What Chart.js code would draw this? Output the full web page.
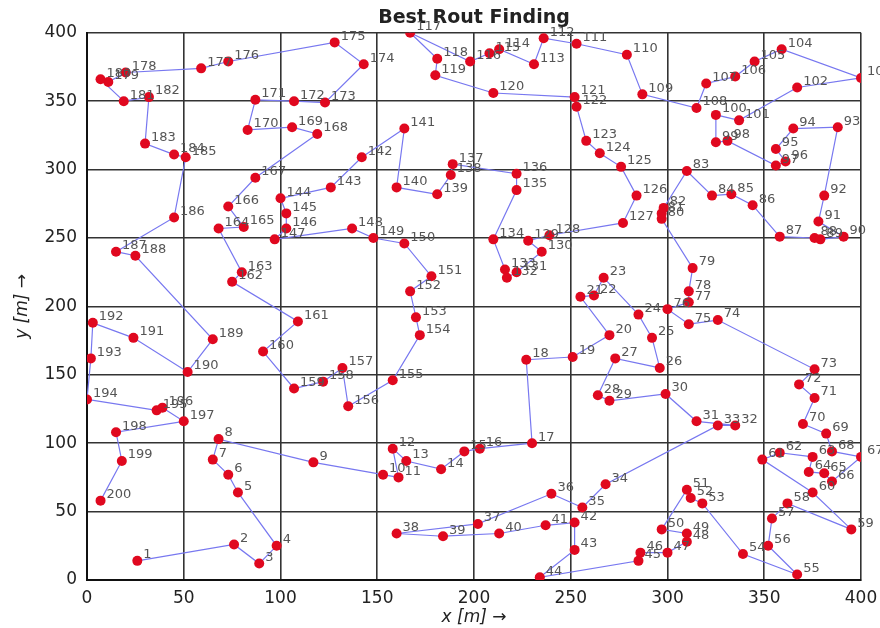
<!DOCTYPE html>
<html lang="en">
<head>
  <meta charset="UTF-8" />
  <title>Best Rout Finding</title>
  <script src="https://cdn.jsdelivr.net/npm/chart.js"></script>
  <style>
    body { margin: 0; background: #fff; }
    #wrap { width: 880px; height: 628px; }
  </style>
</head>
<body>
  <div id="wrap"><canvas id="routeChart" width="880" height="628"></canvas></div>

  <script>
    // visiting order 1..200, x/y in metres
    const xs = [
      26, 76, 89, 98, 78, 73, 65, 68, 117, 153,
      161, 158, 165, 183, 195, 203, 230, 227, 251, 270,
      255, 262, 267, 285, 292, 296, 273, 264, 270, 299,
      315, 335, 326, 268, 256, 240, 202, 160, 184, 213,
      237, 252, 252, 234, 285, 286, 300, 310, 310, 297,
      310, 312, 318, 339, 367, 352, 354, 362, 395, 375,
      349, 358, 375, 373, 381, 385, 400, 385, 382, 370,
      376, 368, 376, 326, 311, 300, 311, 311, 313, 297,
      297, 298, 310, 323, 333, 344, 358, 376, 379, 391,
      378, 381, 388, 365, 356, 361, 356, 331, 325, 325,
      337, 367, 400, 359, 345, 335, 320, 315, 287, 279,
      253, 236, 231, 213, 208, 198, 167, 181, 180, 210,
      252, 253, 258, 265, 276, 284, 277, 239, 228, 235,
      222, 217, 216, 210, 222, 222, 189, 188, 181, 160,
      164, 142, 126, 100, 103, 103, 97, 137, 148, 164,
      178, 167, 170, 172, 158, 135, 132, 122, 107, 91,
      109, 75, 80, 68, 81, 73, 87, 119, 106, 83,
      87, 107, 123, 143, 128, 73, 59, 20, 11, 7,
      19, 32, 30, 45, 51, 45, 15, 25, 65, 52,
      24, 3, 2, 0, 36, 39, 50, 15, 18, 7
    ];
    const ys = [
      14, 26, 12, 25, 64, 77, 88, 103, 86, 77,
      75, 96, 87, 81, 94, 96, 100, 161, 163, 179,
      207, 208, 221, 194, 177, 155, 162, 135, 131, 136,
      116, 113, 113, 70, 53, 63, 41, 34, 32, 34,
      40, 42, 22, 2, 14, 20, 20, 28, 34, 37,
      66, 60, 56, 19, 4, 25, 45, 56, 37, 64,
      88, 93, 90, 79, 78, 72, 90, 94, 107, 114,
      133, 143, 154, 190, 187, 198, 203, 211, 228, 264,
      268, 272, 299, 281, 282, 274, 251, 250, 249, 251,
      262, 281, 331, 330, 315, 306, 303, 321, 320, 340,
      336, 360, 367, 388, 379, 368, 363, 345, 355, 384,
      392, 396, 377, 388, 385, 379, 400, 381, 369, 356,
      353, 346, 321, 312, 302, 281, 261, 252, 248, 240,
      225, 221, 227, 249, 285, 297, 304, 296, 282, 287,
      330, 309, 287, 279, 268, 257, 249, 257, 250, 246,
      222, 211, 192, 179, 146, 127, 155, 145, 140, 167,
      189, 218, 225, 257, 258, 273, 294, 326, 331, 329,
      351, 350, 349, 377, 393, 379, 374, 371, 364, 366,
      350, 353, 319, 311, 309, 265, 240, 237, 176, 152,
      177, 188, 162, 132, 124, 126, 116, 108, 87, 58
    ];
    const axisTicks = [0, 50, 100, 150, 200, 250, 300, 350, 400];

    const route = xs.map((x, i) => ({ x: x, y: ys[i] }));

    // writes the visit number beside each stop
    const stopNumbers = {
      id: "stopNumbers",
      afterDatasetsDraw(chart) {
        const ctx = chart.ctx;
        const meta = chart.getDatasetMeta(0);
        ctx.save();
        ctx.font = "13px 'DejaVu Sans', sans-serif";
        ctx.fillStyle = "#555";
        ctx.textAlign = "left";
        ctx.textBaseline = "middle";
        meta.data.forEach((pt, i) => {
          ctx.fillText(String(i + 1), pt.x + 6, pt.y - 6);
        });
        ctx.restore();
      }
    };

    const ctx = document.getElementById("routeChart").getContext("2d");
    new Chart(ctx, {
      type: "scatter",
      data: {
        datasets: [{
          data: route,
          showLine: true,
          borderColor: "#7878f0",
          borderWidth: 1.2,
          pointBackgroundColor: "#e0081f",
          pointBorderColor: "#e0081f",
          pointRadius: 5,
          pointBorderWidth: 0
        }]
      },
      options: {
        responsive: false,
        animation: false,
        layout: { padding: { left: 0, right: 19, top: 0, bottom: 0 } },
        plugins: {
          legend: { display: false },
          tooltip: { enabled: false },
          title: {
            display: true,
            text: "Best Rout Finding",
            fullSize: false,
            color: "#222",
            font: { family: "'DejaVu Sans', sans-serif", size: 19, weight: "bold" },
            padding: { top: 7, bottom: 3 }
          }
        },
        scales: {
          x: {
            type: "linear",
            min: 0, max: 400,
            afterBuildTicks: s => { s.ticks = axisTicks.map(v => ({ value: v })); },
            afterFit: s => { s.height = 48; s.paddingLeft = 0; s.paddingRight = 0; },
            grid: { color: "#333", lineWidth: 1.6, drawTicks: false },
            border: { color: "#111", width: 2 },
            ticks: {
              color: "#222", padding: 8,
              font: { family: "'DejaVu Sans', sans-serif", size: 17 }
            },
            title: {
              display: true, text: "x [m] \u2192", color: "#222",
              padding: { top: 0, bottom: 0 },
              font: { family: "'DejaVu Sans', sans-serif", size: 17, style: "italic" }
            }
          },
          y: {
            type: "linear",
            min: 0, max: 400,
            afterBuildTicks: s => { s.ticks = axisTicks.map(v => ({ value: v })); },
            afterFit: s => { s.width = 87; },
            grid: { color: "#333", lineWidth: 1.6, drawTicks: false },
            border: { color: "#111", width: 2 },
            ticks: {
              color: "#222", padding: 10,
              font: { family: "'DejaVu Sans', sans-serif", size: 17 }
            },
            title: {
              display: true, text: "y [m] \u2192", color: "#222",
              padding: { top: 12, bottom: 0 },
              font: { family: "'DejaVu Sans', sans-serif", size: 17, style: "italic" }
            }
          }
        }
      },
      plugins: [stopNumbers]
    });
  </script>
</body>
</html>
